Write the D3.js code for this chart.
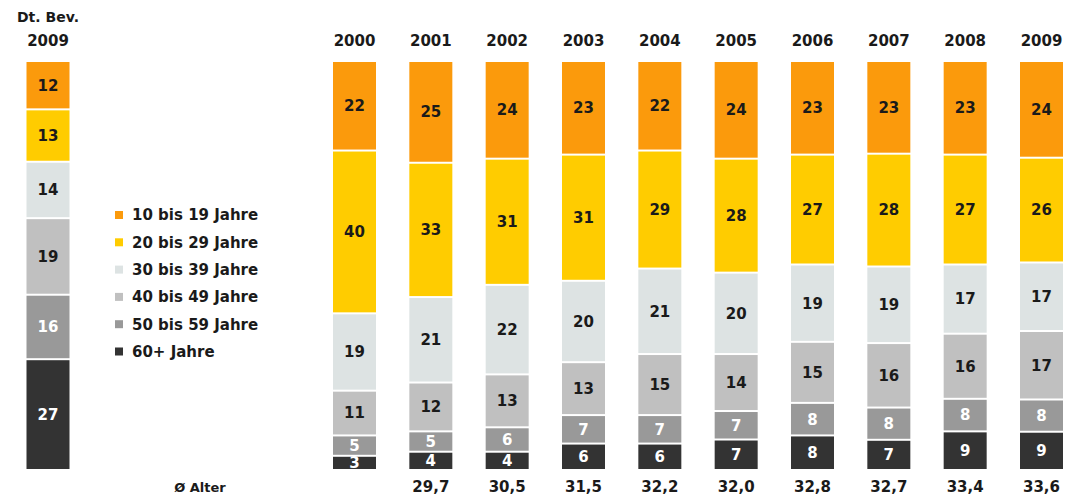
<!DOCTYPE html>
<html>
<head>
<meta charset="utf-8">
<script src="https://cdn.jsdelivr.net/npm/d3@7"></script>
<style>
  body { margin: 0; background: #fff; }
  text { font-family: "DejaVu Sans", Verdana, sans-serif; font-weight: bold; }
</style>
</head>
<body>
<div id="chart"></div>
<script>
// values (percent per age group)
const years = ["2000", "2001", "2002", "2003", "2004", "2005", "2006", "2007", "2008", "2009"];
const alter = ["", "29,7", "30,5", "31,5", "32,2", "32,0", "32,8", "32,7", "33,4", "33,6"];
const groups = ["10 bis 19 Jahre", "20 bis 29 Jahre", "30 bis 39 Jahre", "40 bis 49 Jahre", "50 bis 59 Jahre", "60+ Jahre"];
const age10 = [22, 25, 24, 23, 22, 24, 23, 23, 23, 24];
const age20 = [40, 33, 31, 31, 29, 28, 27, 28, 27, 26];
const age30 = [19, 21, 22, 20, 21, 20, 19, 19, 17, 17];
const age40 = [11, 12, 13, 13, 15, 14, 15, 16, 16, 17];
const age50 = [5, 5, 6, 7, 7, 7, 8, 8, 8, 8];
const age60 = [3, 4, 4, 6, 6, 7, 8, 7, 9, 9];
// Dt. Bevölkerung 2009, same group order as above
const bev2009 = [12, 13, 14, 19, 16, 27];

const colors = ["#fb9a0c", "#ffcc00", "#dde3e3", "#c0c0c0", "#999999", "#333333"];
const textColors = ["#1a1a1a", "#1a1a1a", "#1a1a1a", "#1a1a1a", "#fff", "#fff"];

const width = 1065, height = 497;
const svg = d3.select("#chart").append("svg")
    .attr("width", width)
    .attr("height", height);

const series = [age10, age20, age30, age40, age50, age60];
const rows = years.map((yr, i) => {
    const r = {year: yr};
    groups.forEach((g, k) => r[g] = series[k][i]);
    return r;
});
const bevRow = {year: "Dt. Bev."};
groups.forEach((g, k) => bevRow[g] = bev2009[k]);

// stack from the bottom: 60+ first
const stack = d3.stack()
    .keys(groups.slice().reverse())
    .offset(d3.stackOffsetExpand);

const y = d3.scaleLinear().domain([0, 1]).range([469, 62]);
const x = d3.scalePoint().domain(years).range([354.5, 1041.5]);
const barW = 43;
const gap = 2;

function drawBars(data, xPos) {
    const layers = stack(data);
    layers.forEach((layer, li) => {
        const gi = groups.indexOf(layer.key);
        const g = svg.append("g");
        g.selectAll("rect")
            .data(layer)
            .enter()
            .append("rect")
            .attr("x", d => xPos(d.data.year) - barW / 2)
            .attr("y", d => y(d[1]))
            .attr("width", barW)
            .attr("height", d => y(d[0]) - y(d[1]) - (li > 0 ? gap : 0))
            .attr("fill", colors[gi]);
        g.selectAll("text")
            .data(layer)
            .enter()
            .append("text")
            .attr("x", d => xPos(d.data.year))
            .attr("y", d => (y(d[0]) - (li > 0 ? gap : 0) + y(d[1])) / 2)
            .attr("dy", "0.36em")
            .attr("text-anchor", "middle")
            .attr("font-size", "15px")
            .attr("fill", textColors[gi])
            .text(d => d.data[layer.key]);
    });
}

drawBars(rows, yr => x(yr));
drawBars([bevRow], () => 48);

// year labels
svg.append("g").selectAll("text")
    .data(years)
    .enter()
    .append("text")
    .attr("x", d => x(d))
    .attr("y", 46)
    .attr("text-anchor", "middle")
    .attr("font-size", "15px")
    .attr("fill", "#1a1a1a")
    .text(d => d);

svg.append("text")
    .attr("x", 48).attr("y", 22)
    .attr("text-anchor", "middle")
    .attr("font-size", "14px")
    .attr("fill", "#1a1a1a")
    .text("Dt. Bev.");
svg.append("text")
    .attr("x", 48).attr("y", 46)
    .attr("text-anchor", "middle")
    .attr("font-size", "15px")
    .attr("fill", "#1a1a1a")
    .text("2009");

// average age row
svg.append("text")
    .attr("x", 200).attr("y", 492)
    .attr("text-anchor", "middle")
    .attr("font-size", "13px")
    .attr("fill", "#1a1a1a")
    .text("Ø Alter");
svg.append("g").selectAll("text")
    .data(years)
    .enter()
    .append("text")
    .attr("x", d => x(d))
    .attr("y", 492)
    .attr("text-anchor", "middle")
    .attr("font-size", "15px")
    .attr("fill", "#1a1a1a")
    .text((d, i) => alter[i]);

// legend
const legend = svg.append("g").attr("transform", "translate(115, 215)");
legend.selectAll("rect")
    .data(groups)
    .enter()
    .append("rect")
    .attr("x", 0)
    .attr("y", (d, i) => i * 27.3 - 4)
    .attr("width", 8)
    .attr("height", 8)
    .attr("fill", (d, i) => colors[i]);
legend.selectAll("text")
    .data(groups)
    .enter()
    .append("text")
    .attr("x", 17)
    .attr("y", (d, i) => i * 27.3)
    .attr("dy", "0.36em")
    .attr("font-size", "15px")
    .attr("fill", "#1a1a1a")
    .text(d => d);
</script>
</body>
</html>
